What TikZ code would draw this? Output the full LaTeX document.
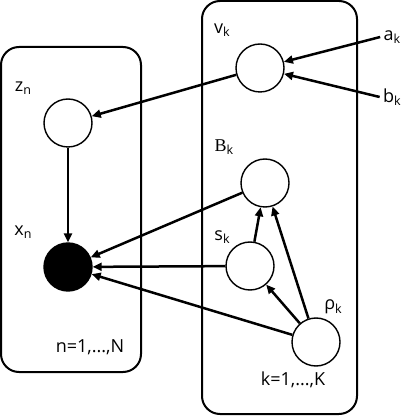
\documentclass[tikz,border=0pt]{standalone}
\usepackage{fontspec}
\setmainfont{Open Sans}
\newfontfamily\serifB{Liberation Serif}
\usepackage{tikz}
\usetikzlibrary{positioning, arrows.meta}
\tikzset{
	labeltext/.style={font=\fontsize{18}{20}\selectfont}
}
\tikzset{
	varnode/.style={circle, draw, line width=1.4pt, minimum size=48pt, inner sep=0pt},
	obsnode/.style={varnode, fill=black},
	plate/.style={draw, line width=2pt, rounded corners=18pt},
	edge/.style={line width=2.5pt, -{Triangle[length=9pt,width=8pt]}}
}
\newcommand{\sub}[2]{#1\raisebox{-0.35ex}{\fontsize{12.5}{12.5}\selectfont #2}}

\begin{document}
\begin{tikzpicture}[x=1pt, y=1pt]
      \useasboundingbox (0,0) rectangle (420,415);
      % plates
      \draw[plate] (1,43) rectangle (141,368);
      \draw[plate] (202,1) rectangle (357,414);
      % variables
      \node[varnode] (zn) at (68,292) {};
      \node[obsnode] (xn) at (68,148) {};
      \node[varnode] (vk) at (260,347) {};
      \node[varnode] (Bk) at (265,232) {};
      \node[varnode] (sk) at (250,149) {};
      \node[varnode] (rhok) at (316,73) {};
      % labels
      \node[labeltext] (znlab) at (23,327) {\sub{z}{n}};
      \node[labeltext] (xnlab) at (23,183) {\sub{x}{n}};
      \node[labeltext] (vklab) at (222,385) {\sub{v}{k}};
      \node[labeltext] (ak) at (392,378) {\sub{a}{k}};
      \node[labeltext] (bk) at (392,318) {\sub{b}{k}};
      \node[labeltext] (Bklab) at (224,268) {\sub{{\serifB B}}{k}};
      \node[labeltext] (sklab) at (222,178) {\sub{s}{k}};
      \node[labeltext] (rhoklab) at (333,108) {\sub{ρ}{k}};
      \node[labeltext] (nrange) at (90,68) {n=1,...,N};
      \node[labeltext] (krange) at (293,35) {k=1,...,K};
      % edges
      \draw[edge] (ak.west) -- (vk);
      \draw[edge] (bk.west) -- (vk);
      \draw[edge] (vk) -- (zn);
      \draw[edge] (zn) -- (xn);
      \draw[edge] (Bk) -- (xn);
      \draw[edge] (sk) -- (xn);
      \draw[edge] (rhok) -- (xn);
      \draw[edge] (sk) -- (Bk);
      \draw[edge] (rhok) -- (sk);
      \draw[edge] (rhok) -- (Bk);
    \end{tikzpicture}
\end{document}
